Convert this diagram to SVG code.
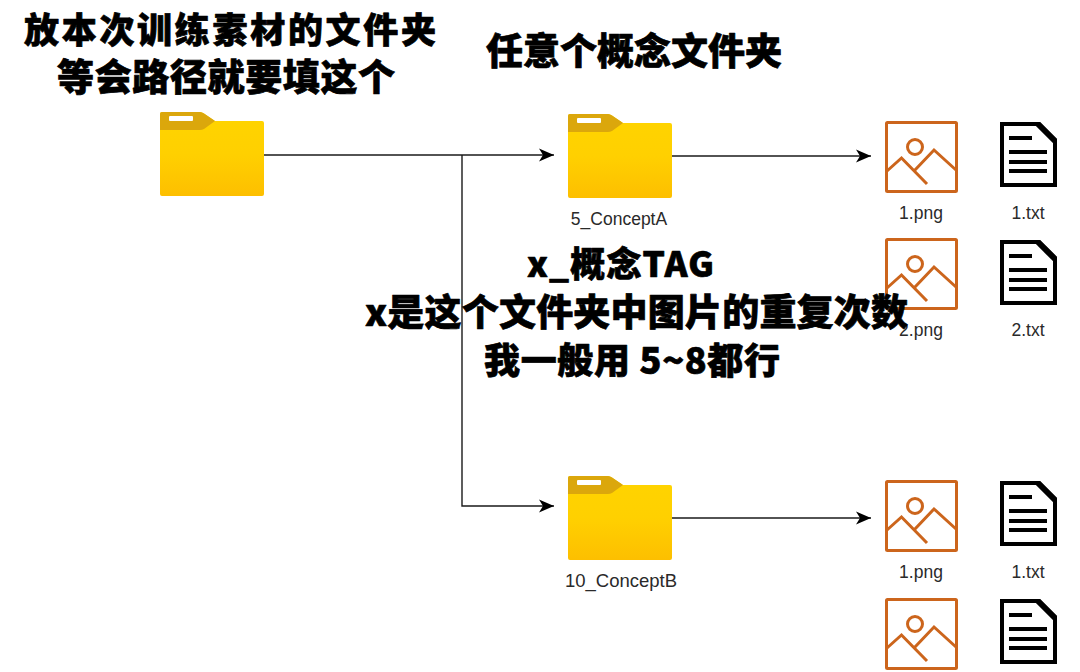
<svg xmlns="http://www.w3.org/2000/svg" width="1080" height="672" viewBox="0 0 1080 672">
<style>
.cap{font-family:"Noto Sans CJK SC","Noto Sans",sans-serif;font-weight:900;fill:#000;stroke:#000;stroke-width:.7;stroke-linejoin:round}
.lbl{font-family:"Liberation Sans",Arial,sans-serif;font-size:17.500px;fill:#2a2a2a;text-anchor:middle}
.ln{fill:none;stroke:#1a1a1a;stroke-width:1.4}
.img{fill:none;stroke:#cc651c;stroke-width:3}
.doc{fill:none;stroke:#000;stroke-width:4}
</style>
<defs>
<linearGradient id="fg" x1="0" y1="0" x2="0" y2="1"><stop offset="0" stop-color="#ffd400"/><stop offset="0.5" stop-color="#ffd000"/><stop offset="1" stop-color="#fdbf00"/></linearGradient>
<marker id="ah" markerWidth="16" markerHeight="14" refX="15" refY="7" orient="auto" markerUnits="userSpaceOnUse"><path d="M0 0.500L15 7L0 13.500L4 7Z" fill="#000"/></marker>
<g id="folder">
<path d="M0 2Q0 0 2 0H40Q42 0 44 1.500L55 9H102Q104 9 104 11V82Q104 84 102 84H2Q0 84 0 82Z" fill="url(#fg)"/>
<path d="M0 2Q0 0 2 0H40Q42 0 44 1.500L55 9L44 17Q42 18 40 18H0Z" fill="#dba70c"/>
<rect x="9" y="4" width="24" height="5" rx="1" fill="#fff"/>
</g>
<g id="pic">
<rect x="1.500" y="1.500" width="70" height="69" rx="1" class="img"/>
<circle cx="30" cy="26" r="7.500" class="img"/>
<path d="M2 50L16.500 37L42 63M30 49L49 29L71 49" class="img"/>
</g>
<g id="doc">
<path d="M2 2H39L55 18V63H2Z" fill="#fff" stroke="#000" stroke-width="4"/>
<path d="M38 2L55 19" stroke="#000" stroke-width="6" fill="none"/>
<path d="M9 16H32M9 30H47M9 40H47M9 49H47" class="doc"/>
</g>
</defs>
<rect width="1080" height="672" fill="#fff"/>
<g id="connectors">
<path class="ln" d="M264 155H554" marker-end="url(#ah)"/>
<path class="ln" d="M462 155V506H554" marker-end="url(#ah)"/>
<path class="ln" d="M672 156H871" marker-end="url(#ah)"/>
<path class="ln" d="M672 518H871" marker-end="url(#ah)"/>
</g>
<g id="root-folder"><use href="#folder" x="160" y="112"/></g>
<g id="concept-a"><use href="#folder" x="568" y="114"/><text class="lbl" x="619" y="225">5_ConceptA</text></g>
<g id="concept-b"><use href="#folder" x="568" y="476"/><text class="lbl" x="621" y="587" style="font-size:18.500px">10_ConceptB</text></g>
<g id="a-1-png"><use href="#pic" x="885" y="121"/><text class="lbl" x="921" y="219">1.png</text></g>
<g id="a-1-txt"><use href="#doc" x="1000" y="122"/><text class="lbl" x="1028" y="219">1.txt</text></g>
<g id="a-2-png"><use href="#pic" x="885" y="238"/><text class="lbl" x="921" y="336">2.png</text></g>
<g id="a-2-txt"><use href="#doc" x="1000" y="240"/><text class="lbl" x="1028" y="336">2.txt</text></g>
<g id="b-1-png"><use href="#pic" x="885" y="480"/><text class="lbl" x="921" y="578">1.png</text></g>
<g id="b-1-txt"><use href="#doc" x="1000" y="481"/><text class="lbl" x="1028" y="578">1.txt</text></g>
<g id="b-2-png"><use href="#pic" x="885" y="598"/></g>
<g id="b-2-txt"><use href="#doc" x="1000" y="599"/></g>
<g id="captions">
<text class="cap" x="24" y="43" font-size="35" textLength="412" lengthAdjust="spacing">放本次训练素材的文件夹</text>
<text class="cap" x="57" y="91" font-size="37" textLength="338" lengthAdjust="spacing">等会路径就要填这个</text>
<text class="cap" x="486" y="65" font-size="37" textLength="296" lengthAdjust="spacing">任意个概念文件夹</text>
<text class="cap" x="527" y="277" font-size="35" textLength="187" lengthAdjust="spacing">x_概念TAG</text>
<text class="cap" x="365" y="326" font-size="37" textLength="543" lengthAdjust="spacing">x是这个文件夹中图片的重复次数</text>
<text class="cap" x="484" y="374" font-size="36" textLength="296" lengthAdjust="spacing">我一般用 5~8都行</text>
</g>
</svg>
